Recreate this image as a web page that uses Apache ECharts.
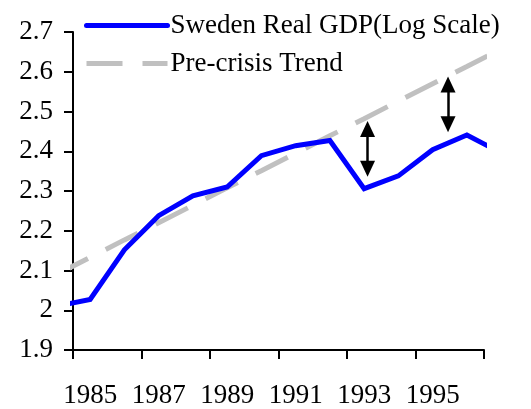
<!DOCTYPE html>
<html>
<head>
<meta charset="utf-8">
<script src="https://cdn.jsdelivr.net/npm/echarts@6/dist/echarts.min.js"></script>
<style>
  html, body { margin: 0; padding: 0; background: #fff; }
  #chart { width: 531px; height: 409px; }
</style>
</head>
<body>
<div id="chart"></div>
<script>
// years and values (1984 and 1997 fall outside the plot and get clipped)
const years = [1984, 1985, 1986, 1987, 1988, 1989, 1990, 1991, 1992, 1993, 1994, 1995, 1996, 1997];
const gdpLog = [2.010, 2.027, 2.152, 2.238, 2.288, 2.310, 2.389, 2.414, 2.427, 2.306, 2.338, 2.404, 2.441, 2.396];
const trendLog = [2.089, 2.133, 2.177, 2.220, 2.264, 2.308, 2.351, 2.395, 2.439, 2.482, 2.526, 2.570, 2.613, 2.657];
const yearLabels = ['1985', '1986', '1987', '1988', '1989', '1990', '1991', '1992', '1993', '1994', '1995', '1996'];
// gap arrows: [year, low, high]
const gapArrows = [
  [1993.1, 2.356, 2.456],
  [1995.45, 2.468, 2.568],
];

const font = 'Liberation Serif, Times New Roman, serif';
const chart = echarts.init(document.getElementById('chart'));

const option = {
  animation: false,
  textStyle: { fontFamily: font },
  grid: { left: 73, right: 47, top: 32, bottom: 56, containLabel: false },
  legend: {
    orient: 'vertical',
    left: 84,
    top: 12,
    padding: 0,
    itemWidth: 81,
    itemHeight: 14,
    itemGap: 11,
    itemStyle: { opacity: 0, borderWidth: 0 },
    textStyle: { fontFamily: font, fontSize: 27, color: '#000', padding: [0, 0, 0, -2] },
    data: [
      { name: 'Sweden Real GDP(Log Scale)', lineStyle: { width: 5, cap: 'round' } },
      { name: 'Pre-crisis Trend', lineStyle: { width: 5 } },
    ],
  },
  xAxis: [
    {
      type: 'value',
      min: 1984.5,
      max: 1996.5,
      interval: 2,
      position: 'bottom',
      splitLine: { show: false },
      axisLine: { onZero: false, lineStyle: { color: '#000', width: 2 } },
      axisTick: { show: true, length: 9, lineStyle: { color: '#000', width: 2 } },
      axisLabel: { show: false },
    },
    {
      type: 'category',
      data: yearLabels,
      boundaryGap: true,
      position: 'bottom',
      axisLine: { show: false },
      axisTick: { show: false },
      axisLabel: {
        interval: 1,
        margin: 32,
        fontFamily: font,
        fontSize: 27,
        color: '#000',
      },
    },
  ],
  yAxis: {
    type: 'value',
    min: 1.9,
    max: 2.7,
    interval: 0.1,
    splitLine: { show: false },
    axisLine: { show: true, lineStyle: { color: '#000', width: 2 } },
    axisTick: { show: true, length: 9, lineStyle: { color: '#000', width: 2 } },
    axisLabel: {
      margin: 20,
      fontFamily: font,
      fontSize: 27,
      color: '#000',
      formatter: v => String(Math.round(v * 10) / 10),
    },
  },
  series: [
    {
      name: 'Pre-crisis Trend',
      type: 'line',
      xAxisIndex: 0,
      symbol: 'none',
      data: years.map((y, i) => [y, trendLog[i]]),
      lineStyle: { color: '#c0c0c0', width: 5, type: [36, 20] },
      itemStyle: { color: '#c0c0c0' },
      z: 2,
    },
    {
      name: 'Sweden Real GDP(Log Scale)',
      type: 'line',
      xAxisIndex: 0,
      symbol: 'none',
      data: years.map((y, i) => [y, gdpLog[i]]),
      lineStyle: { color: '#0000ff', width: 5, join: 'miter' },
      itemStyle: { color: '#0000ff' },
      z: 3,
      markLine: {
        silent: true,
        symbol: ['triangle', 'triangle'],
        symbolSize: [15, 16],
        label: { show: false },
        lineStyle: { color: '#000', width: 2.5, type: 'solid' },
        emphasis: { disabled: true },
        data: gapArrows.map(a => [{ coord: [a[0], a[1]] }, { coord: [a[0], a[2]] }]),
      },
    },
  ],
};

chart.setOption(option);
window.addEventListener('resize', function () {
  chart.resize();
});
</script>
</body>
</html>
